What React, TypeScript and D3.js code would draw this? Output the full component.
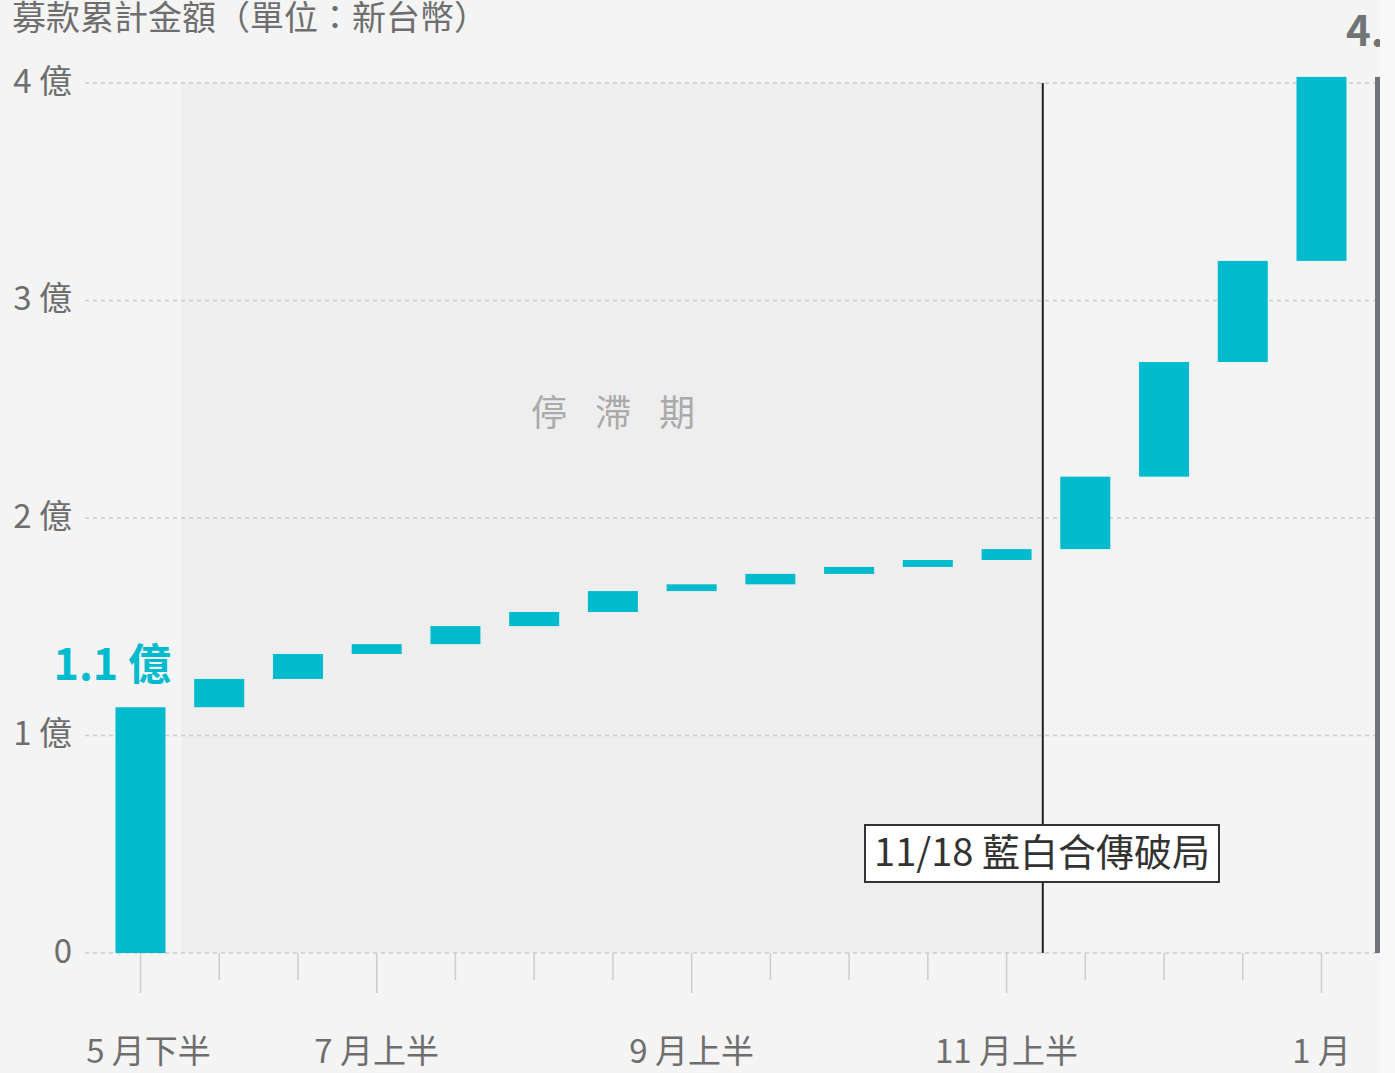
import * as d3 from "d3";

// 募款累計（億元），每半月一格
const periods = [
  "5月下半", "6月上半", "6月下半", "7月上半", "7月下半", "8月上半", "8月下半", "9月上半",
  "9月下半", "10月上半", "10月下半", "11月上半", "11月下半", "12月上半", "12月下半", "1月",
];
const cumulative = [
  1.13, 1.26, 1.375, 1.42, 1.503, 1.568, 1.664, 1.695,
  1.743, 1.775, 1.807, 1.857, 2.19, 2.717, 3.182, 4.028,
];
const labeledPeriods = ["5月下半", "7月上半", "9月上半", "11月上半", "1月"];
const tickLabels = ["5 月下半", "7 月上半", "9 月上半", "11 月上半", "1 月"];
const yTicks = [0, 1, 2, 3, 4];
const yTickLabels = ["0", "1 億", "2 億", "3 億", "4 億"];

const W = 1395;
const H = 1073;
const CW = 1380; // chart area is clipped just before the window edge
const FONT = "'Noto Sans CJK TC', 'Noto Sans', sans-serif";
const BAR = "#00bbce";

export default function App() {
  const x = d3.scalePoint<string>().domain(periods).range([140.5, 1321.5]);
  const step = x.step();
  const bw = step * 0.635;
  const y = d3.scaleLinear().domain([0, 4]).range([953, 83]);

  const bars = cumulative.map((v, i) => ({
    key: periods[i],
    start: i === 0 ? 0 : cumulative[i - 1],
    end: v,
  }));
  const total = cumulative[cumulative.length - 1];

  const stallStart = x(periods[0])! + step / 2 + 2;
  const breakX = x("11月上半")! + step * 0.46;
  const spacing = 28;

  return (
    <div style={{ position: "absolute", left: 0, top: 0, width: W, height: H, background: "#f8f8f8" }}>
      <svg width={CW} height={H} style={{ display: "block", fontFamily: FONT }}>
        <rect width={CW} height={H} fill="#f4f4f4" />
        {/* 停滯期 shading */}
        <rect x={stallStart} y={y(4)} width={breakX - stallStart} height={y(0) - y(4)} fill="#eeeeee" />
        <text x={613 + spacing / 2} y={y(2.47)} textAnchor="middle" dominantBaseline="middle"
          fontSize={36} fill="#aaaaaa" letterSpacing={spacing}>停滯期</text>

        {/* grid */}
        {yTicks.map((t, i) => (
          <g key={t}>
            <line x1={85} x2={CW} y1={y(t)} y2={y(t)} stroke="#cccccc" strokeWidth={1.5} strokeDasharray="4 4" />
            <text x={72} y={y(t) + 1} textAnchor="end" dominantBaseline="middle" fontSize={33} fill="#6e6e6e">
              {yTickLabels[i]}
            </text>
          </g>
        ))}

        {/* x ticks */}
        {periods.map((p) => {
          const long = labeledPeriods.includes(p);
          return (
            <line key={p} x1={x(p)} x2={x(p)} y1={y(0)} y2={y(0) + (long ? 40 : 27)} stroke="#cccccc" strokeWidth={1.5} />
          );
        })}
        {labeledPeriods.map((p, i) => (
          <text key={p} x={x(p)! + (i === 0 ? 8 : 0)} y={1054} textAnchor="middle" dominantBaseline="middle" fontSize={33} fill="#6e6e6e">
            {tickLabels[i]}
          </text>
        ))}

        {/* bars */}
        {bars.map((b) => (
          <rect key={b.key} x={x(b.key)! - bw / 2} y={y(b.end)} width={bw} height={y(b.start) - y(b.end)} fill={BAR} />
        ))}

        <text x={171} y={668} textAnchor="end" dominantBaseline="middle" fontSize={43} fontWeight="bold" fill={BAR}>
          {d3.format(".1f")(cumulative[0])} 億
        </text>

        {/* 11/18 marker */}
        <line x1={breakX} x2={breakX} y1={y(4)} y2={y(0)} stroke="#222222" strokeWidth={2} />
        <rect x={865} y={825} width={354} height={57} fill="#ffffff" stroke="#333333" strokeWidth={2} />
        <text x={1042} y={856} textAnchor="middle" dominantBaseline="middle" fontSize={38} fill="#333333">
          11/18 藍白合傳破局
        </text>

        {/* total */}
        <rect x={1375} y={y(total)} width={5} height={y(0) - y(total)} fill="#6f7576" />
        <text x={1346} y={46} fontSize={42} fontWeight="bold" fill="#6f7576">
          {d3.format(".1f")(total)} 億
        </text>

        <text x={12} y={21} dominantBaseline="middle" fontSize={34} fill="#6e6e6e">
          募款累計金額（單位：新台幣）
        </text>
      </svg>
    </div>
  );
}
